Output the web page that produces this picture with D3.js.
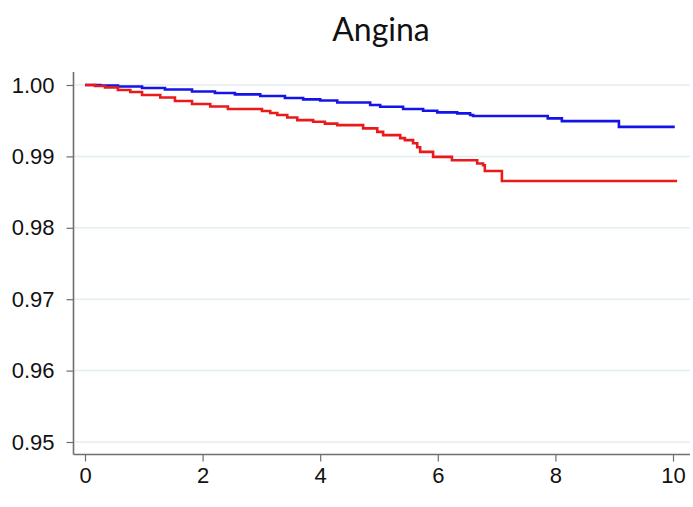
<!DOCTYPE html>
<html>
<head>
<meta charset="utf-8">
<script src="https://d3js.org/d3.v7.min.js"></script>
<style>
  html, body { margin: 0; padding: 0; background: #fff; }
  svg { display: block; }
</style>
</head>
<body>
<svg id="chart" width="693" height="507"></svg>
<script>
// ---- data ----
const title = "Angina";
const xTicks = [0, 2, 4, 6, 8, 10];
const yTicks = [0.95, 0.96, 0.97, 0.98, 0.99, 1.00];

// Group 1 (blue) step curve: times and survival
const blueTime = [0, 0.26, 0.56, 0.97, 1.36, 1.82, 2.21, 2.55, 2.98, 3.40, 3.71, 4.00, 4.29, 4.85, 5.02, 5.41, 5.75, 5.99, 6.33, 6.55, 6.60, 7.87, 8.11, 9.08, 10.03];
const blueSurv = [1.0, 0.99993, 0.99979, 0.99958, 0.99937, 0.99909, 0.99888, 0.99869, 0.99846, 0.99817, 0.99799, 0.99782, 0.99754, 0.99719, 0.99695, 0.99663, 0.99639, 0.99616, 0.99603, 0.99579, 0.99565, 0.99532, 0.99494, 0.99414, 0.99414];

// Group 2 (red) step curve
const redTime = [0, 0.17, 0.34, 0.56, 0.77, 0.97, 1.28, 1.53, 1.82, 2.13, 2.43, 3.01, 3.15, 3.27, 3.44, 3.61, 3.88, 4.08, 4.29, 4.73, 4.97, 5.07, 5.36, 5.44, 5.58, 5.65, 5.70, 5.92, 6.24, 6.67, 6.77, 6.80, 7.09, 10.07];
const redSurv = [1.0, 0.99986, 0.99965, 0.99930, 0.99902, 0.99860, 0.99824, 0.99775, 0.99733, 0.99698, 0.99663, 0.99635, 0.99607, 0.99579, 0.99544, 0.99508, 0.99485, 0.99459, 0.99438, 0.99392, 0.99344, 0.99298, 0.99256, 0.99228, 0.99185, 0.99129, 0.99063, 0.98993, 0.98947, 0.98900, 0.98876, 0.98796, 0.98656, 0.98656];

// ---- chart ----
const svg = d3.select("#chart");
const x = d3.scaleLinear().domain([0, 10]).range([85, 673]);
const y = d3.scaleLinear().domain([0.95, 1.00]).range([442, 85]);

const xMin = x.invert(73.5), xMax = x.invert(690);
const yMin = y.invert(454.5), yMax = y.invert(72);

// gridlines
svg.append("g").selectAll("line").data(yTicks).join("line")
  .attr("x1", x(xMin) + 1).attr("x2", x(xMax))
  .attr("y1", d => y(d)).attr("y2", d => y(d))
  .attr("stroke", "#e4edf2").attr("stroke-width", 1.5);

// title
svg.append("text")
  .attr("x", 381).attr("y", 41)
  .attr("text-anchor", "middle")
  .attr("font-family", "Lato, 'Open Sans', sans-serif")
  .attr("font-size", 32)
  .attr("fill", "#111")
  .text(title);

// axes
const yAxis = d3.axisLeft(y).tickValues(yTicks).tickFormat(d3.format(".2f"))
  .tickSize(7).tickPadding(12).tickSizeOuter(0);
const gy = svg.append("g").attr("transform", `translate(${x(xMin)},0)`).call(yAxis);
gy.select(".domain").remove();
gy.append("line").attr("x1", 0).attr("x2", 0).attr("y1", y(yMax)).attr("y2", y(yMin))
  .attr("stroke", "#6e6e6e").attr("stroke-width", 1.6);

const xAxis = d3.axisBottom(x).tickValues(xTicks).tickFormat(d3.format("d"))
  .tickSize(7).tickPadding(6).tickSizeOuter(0);
const gx = svg.append("g").attr("transform", `translate(0,${y(yMin)})`).call(xAxis);
gx.select(".domain").remove();
gx.append("line").attr("x1", x(xMin)).attr("x2", x(xMax)).attr("y1", 0).attr("y2", 0)
  .attr("stroke", "#6e6e6e").attr("stroke-width", 1.6);

[gx, gy].forEach(g => {
  g.selectAll(".tick line").attr("stroke", "#6e6e6e").attr("stroke-width", 1.2);
  g.selectAll(".tick text")
    .attr("font-family", "'Liberation Sans', Arial, sans-serif")
    .attr("font-size", 22)
    .attr("fill", "#111");
});

// curves
const line = d3.line().x(d => x(d[0])).y(d => y(d[1])).curve(d3.curveStepAfter);
const blueData = blueTime.map((t, i) => [t, blueSurv[i]]);
const redData = redTime.map((t, i) => [t, redSurv[i]]);

svg.append("path").datum(blueData).attr("d", line)
  .attr("fill", "none").attr("stroke", "#1414e6").attr("stroke-width", 2.6);
svg.append("path").datum(redData).attr("d", line)
  .attr("fill", "none").attr("stroke", "#ea1a1a").attr("stroke-width", 2.6);
</script>
</body>
</html>
